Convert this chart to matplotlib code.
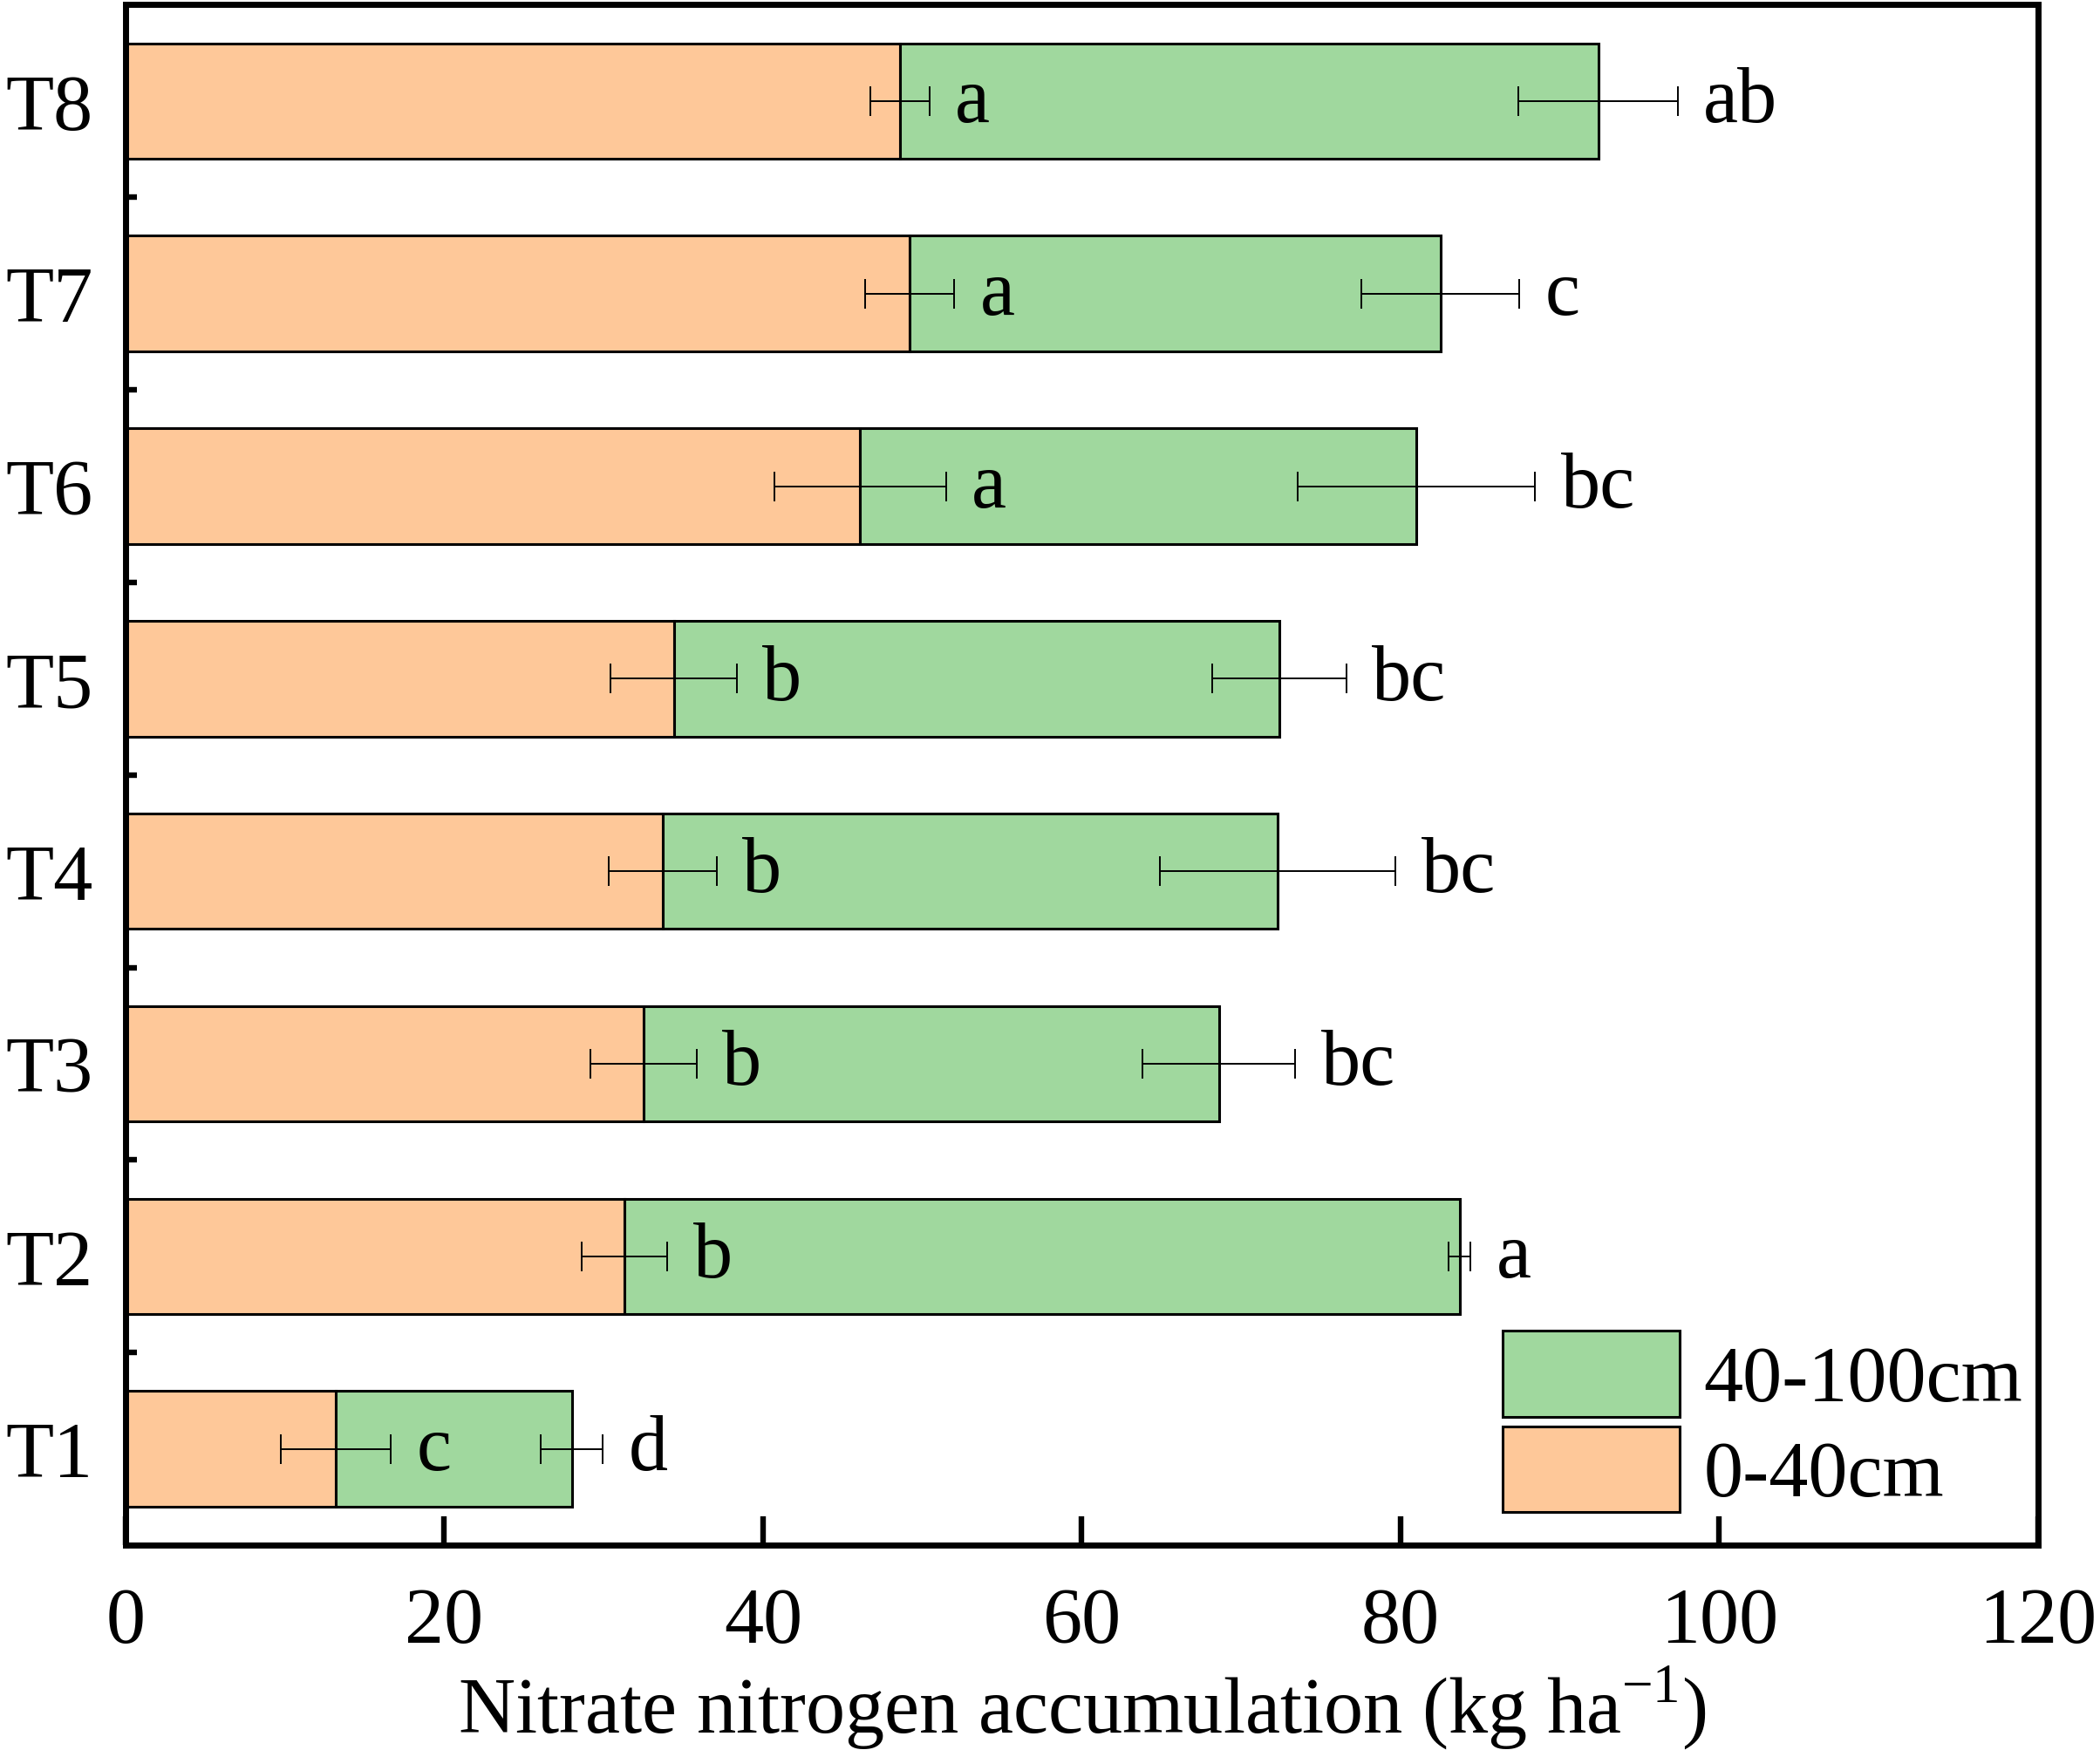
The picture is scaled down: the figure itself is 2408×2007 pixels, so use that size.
import matplotlib
matplotlib.use("Agg")
import matplotlib.pyplot as plt
import numpy as np

plt.rcParams['font.family'] = ['Liberation Serif', 'DejaVu Serif']
plt.rcParams['mathtext.fontset'] = 'custom'
plt.rcParams['mathtext.rm'] = 'Liberation Serif'

categories = ["T1", "T2", "T3", "T4", "T5", "T6", "T7", "T8"]
layer_0_40 = [13.2, 31.3, 32.5, 33.7, 34.4, 46.1, 49.2, 48.6]
err_0_40 = [3.45, 2.7, 3.35, 3.4, 3.95, 5.4, 2.8, 1.85]
layer_40_100 = [14.8, 52.4, 36.1, 38.6, 38.0, 34.9, 33.3, 43.8]
err_40_100 = [1.95, 0.7, 4.8, 7.4, 4.2, 7.45, 4.95, 5.0]
letters_0_40 = ["c", "b", "b", "b", "b", "a", "a", "a"]
letters_40_100 = ["d", "a", "bc", "bc", "bc", "bc", "c", "ab"]
series_names = ["0-40cm", "40-100cm"]
xticks = [0, 20, 40, 60, 80, 100, 120]

c_orange = "#FEC899"
c_green = "#A0D89E"
FS = 65

fig = plt.figure(figsize=(24.08, 20.08), dpi=100)
ax = fig.add_axes([0.0598, 0.117, 0.9107, 0.8798])

y = np.arange(len(categories))
a = np.array(layer_0_40)
g = np.array(layer_40_100)
tot = a + g

b1 = ax.barh(y, a, height=0.6, color=c_orange, edgecolor='black', linewidth=2.2,
             label=series_names[0], zorder=2)
b2 = ax.barh(y, g, left=a, height=0.6, color=c_green, edgecolor='black', linewidth=2.2,
             label=series_names[1], zorder=2)

ax.errorbar(a, y, xerr=err_0_40, fmt='none', ecolor='black', elinewidth=1.4,
            capsize=12, capthick=1.4, zorder=3)
ax.errorbar(tot, y, xerr=err_40_100, fmt='none', ecolor='black', elinewidth=1.4,
            capsize=12, capthick=1.4, zorder=3)

for yi, xa, ea, la in zip(y, a, err_0_40, letters_0_40):
    ax.annotate(la, xy=(xa + ea, yi - 0.105), xytext=(21, 0), textcoords='offset points',
                ha='left', va='baseline', fontsize=FS, zorder=4)
for yi, xt, eg, lg in zip(y, tot, err_40_100, letters_40_100):
    ax.annotate(lg, xy=(xt + eg, yi - 0.105), xytext=(21, 0), textcoords='offset points',
                ha='left', va='baseline', fontsize=FS, zorder=4)

ax.set_xlim(0, 120)
ax.set_ylim(-0.5, 7.5)
ax.set_xticks(xticks)
ax.set_xticklabels([str(t) for t in xticks], fontsize=FS)
ax.set_yticks(y)
ax.set_yticklabels(categories, fontsize=FS)
ax.set_yticks(y[:-1] + 0.5, minor=True)
ax.tick_params(axis='x', direction='in', length=24, width=4.6, pad=34)
ax.tick_params(axis='y', which='major', length=0, pad=27)
ax.tick_params(axis='y', which='minor', direction='in', length=9, width=4.6)
for s in ax.spines.values():
    s.set_linewidth(5)

ax.set_xlabel(r'Nitrate nitrogen accumulation (kg ha$^{\mathregular{-1}}$)', fontsize=FS, labelpad=4)

ax.legend([b2, b1], [series_names[1], series_names[0]], loc='lower left',
          bbox_to_anchor=(0.72, 0.0215), frameon=False, fontsize=FS,
          handlelength=2.25, handleheight=1.3, handletextpad=0.3,
          labelspacing=0.12, borderpad=0, borderaxespad=0)

fig.savefig("out.png", dpi=100)
